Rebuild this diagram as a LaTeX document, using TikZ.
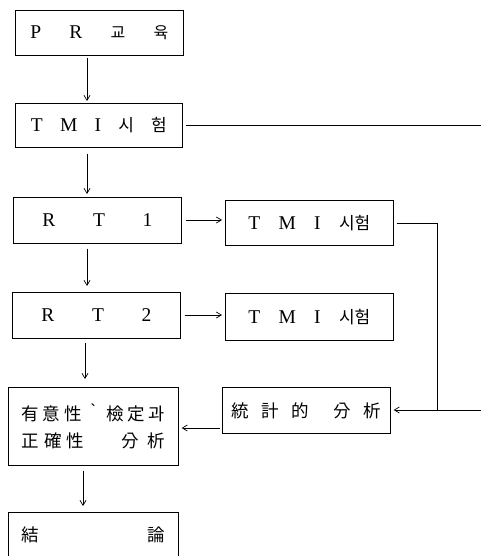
\documentclass[tikz,border=0pt]{standalone}
\usepackage{fontspec}
\setmainfont{Liberation Serif}
\newfontfamily\kr{Noto Sans CJK KR}
\usetikzlibrary{arrows.meta}
\begin{document}
\begin{tikzpicture}[x=1pt,y=-1pt,
 box/.style={draw,line width=0.7pt,inner sep=0pt,anchor=north west,font=\fontsize{19.5}{22}\selectfont},
 openbox/.style={box,draw=none},
 arr/.style={line width=0.7pt,-{Straight Barb[length=5pt,width=6pt]}},
 ln/.style={line width=0.7pt},
 kf/.style={font=\kr\fontsize{17.5}{27}\selectfont}]
\useasboundingbox (0,0) rectangle (483,556);
\node[box,minimum width=168pt,minimum height=45pt] (b1) at (15,10)
  {\makebox[138pt][s]{P\hfill R\hfill {\kr\fontsize{16}{20}\selectfont 교}\hfill {\kr\fontsize{16}{20}\selectfont 육}}};
\node[box,minimum width=167pt,minimum height=44pt] (b2) at (15,103)
  {\makebox[136pt][s]{T\hfill M\hfill I\hfill {\kr\fontsize{17}{20}\selectfont 시}\hfill {\kr\fontsize{17}{20}\selectfont 험}}};
\node[box,minimum width=168pt,minimum height=46pt] (b3) at (13,197)
  {\makebox[110pt][s]{R\hfill T\hfill 1}};
\node[box,minimum width=168pt,minimum height=45pt] (b4) at (225,200)
  {\makebox[122pt][s]{T\hfill M\hfill I\hfill {\kr\fontsize{17}{20}\selectfont 시험}}};
\node[box,minimum width=168pt,minimum height=46pt] (b5) at (12,292)
  {\makebox[110pt][s]{R\hfill T\hfill 2}};
\node[box,minimum width=168pt,minimum height=47pt] (b6) at (225,293)
  {\makebox[122pt][s]{T\hfill M\hfill I\hfill {\kr\fontsize{17}{20}\selectfont 시험}}};
\node[box,kf,minimum width=170pt,minimum height=78pt,align=center] (b7) at (8,387)
  {\makebox[143pt][s]{有\hfill 意\hfill 性\hfill ｀\hfill 檢\hfill 定\hfill 과}\\
   \makebox[143pt][s]{正\hspace{5pt}確\hspace{5pt}性\hfill 分\hspace{8pt}析}};
\node[box,kf,minimum width=168pt,minimum height=46pt] (b8) at (222,387)
  {\makebox[150pt][s]{統\hfill 計\hfill 的\hfill\hfill 分\hfill 析}};
\node[openbox,kf,minimum width=170pt,minimum height=48pt] (b9) at (8,512)
  {\raisebox{5pt}{\makebox[143pt][s]{結\hfill 論}}};
\draw[ln] (b9.south west) -- (b9.north west) -- (b9.north east) -- (b9.south east);

\coordinate (c1) at (87,0);
\coordinate (c2) at (85,0);
\coordinate (c3) at (83,0);
\draw[arr,shorten <=2pt,shorten >=2pt] (b1.south -| c1) -- (b2.north -| c1);
\draw[arr,shorten <=6pt,shorten >=3pt] (b2.south -| c1) -- (b3.north -| c1);
\draw[arr,shorten <=5pt,shorten >=6pt] (b3.south -| c1) -- (b5.north -| c1);
\draw[arr,shorten <=4pt,shorten >=8pt] (b5.south -| c2) -- (b7.north -| c2);
\draw[arr,shorten <=5pt,shorten >=6pt] (b7.south -| c3) -- (b9.north -| c3);

\coordinate (h1) at (0,220);
\coordinate (h2) at (0,315);
\coordinate (h3) at (0,428);
\coordinate (h4) at (0,410);
\coordinate (h5) at (0,125);
\draw[arr,shorten <=4pt,shorten >=3pt] (b3.east |- h1) -- (b4.west |- h1);
\draw[arr,shorten <=4pt,shorten >=3pt] (b5.east |- h2) -- (b6.west |- h2);
\draw[arr,shorten <=2pt,shorten >=3pt] (b8.west |- h3) -- (b7.east |- h3);

\coordinate (r1) at (437,223);
\coordinate (r2) at (437,410);
\coordinate (e1) at (481,125);
\coordinate (e2) at (481,410);
\draw[ln,shorten <=3pt] (b4.east |- r1) -- (r1) -- (r2);
\draw[ln,shorten <=3pt] (b2.east |- h5) -- (e1);
\draw[arr,shorten >=3pt] (e2) -- (b8.east |- h4);
\end{tikzpicture}
\end{document}
